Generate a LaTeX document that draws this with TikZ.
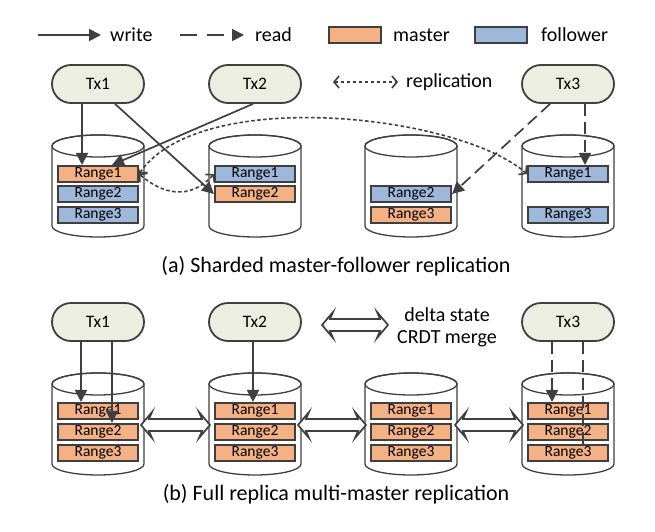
\documentclass[tikz,border=0pt]{standalone}
\usepackage{fontspec}
\setmainfont{Carlito}
\usetikzlibrary{arrows.meta,calc}
\definecolor{dk}{HTML}{3F3F3F}
\definecolor{mfill}{HTML}{F4B183}
\definecolor{ffill}{HTML}{9DB8DA}
\definecolor{txf}{HTML}{EBEEE1}
\newcommand\drum[3]{%
  \path[fill=white,draw=dk,line width=1.3pt] ({#1-46},#2) -- ({#1-46},{#2+80})
    arc[start angle=180,end angle=360,x radius=46pt,y radius=11pt] -- ({#1+46},#2)
    arc[start angle=0,end angle=180,x radius=46pt,y radius=11pt] -- cycle;
  \draw[dk,line width=1.3pt] (#1,#2) ellipse[x radius=46pt,y radius=11pt];
  \node[inner sep=0pt,minimum width=92pt,minimum height=102pt] (#3) at (#1,{#2+40}) {};
}
\newcommand\hollow[2]{%
  \draw[dk,line width=1.7pt,fill=white,line join=miter]
    (#1) -- ($(#1)+(11,-13)$) -- ($(#1)+(8,-6)$) -- ($(#2)+(-8,-6)$) -- ($(#2)+(-11,-13)$)
    -- (#2) -- ($(#2)+(-11,13)$) -- ($(#2)+(-8,6)$) -- ($(#1)+(8,6)$) -- ($(#1)+(11,13)$) -- cycle;
}
\begin{document}
\begin{tikzpicture}[x=1pt,y=-1pt,
  tx/.style={draw=dk,line width=1.8pt,fill=txf,rounded corners=19pt,minimum width=92pt,minimum height=38pt,inner sep=0pt,font=\fontsize{17.5}{20}\selectfont},
  rng/.style={draw=dk,line width=2.1pt,minimum width=80pt,minimum height=16pt,inner sep=0pt,font=\fontsize{15.5}{16}\selectfont},
  mst/.style={rng,fill=mfill},
  flw/.style={rng,fill=ffill},
  wr/.style={draw=dk,line width=1.7pt,-{Triangle[length=12pt,width=12pt]}},
  rd/.style={wr,dash pattern=on 12pt off 6pt},
  rep/.style={draw=dk,line width=1.6pt,dash pattern=on 3.5pt off 2.5pt,{Straight Barb[length=5pt,width=12pt]}-{Straight Barb[length=5pt,width=12pt]}},
  lbl/.style={font=\fontsize{20}{22}\selectfont,inner sep=0pt,anchor=west},
  captxt/.style={font=\fontsize{22}{24}\selectfont,inner sep=0pt}
]
\useasboundingbox (0,0) rectangle (655,532);
% legend
\coordinate (w0) at (38,35); \coordinate (w1) at (101,35);
\draw[wr] (w0) -- (w1);
\node[lbl] (lw) at (110,35) {write};
\coordinate (r0) at (180,35); \coordinate (r1) at (244,35);
\draw[wr,dash pattern=on 17pt off 10pt] (r0) -- (r1);
\node[lbl] (lr) at (255,35) {read};
\node[rng,fill=mfill,minimum width=52pt] (lm) at (355,35) {};
\node[lbl] (lmt) at (393,35) {master};
\node[rng,fill=ffill,minimum width=52pt] (lf) at (501,35) {};
\node[lbl] (lft) at (541,35) {follower};
\coordinate (p0) at (333,82); \coordinate (p1) at (398,82);
\draw[rep] (p0) -- (p1);
\node[lbl] (lp) at (406,82) {replication};

% ---------- (a) ----------
\node[tx] (ta1) at (98,84) {Tx1};
\node[tx] (ta2) at (255,84) {Tx2};
\node[tx] (ta3) at (568,84) {Tx3};
\drum{98}{146}{ca1}
\drum{255}{146}{ca2}
\drum{411}{146}{ca3}
\drum{568}{146}{ca4}
\node[mst] (a1r1) at (98,174) {Range1};
\node[flw] (a1r2) at (98,194) {Range2};
\node[flw] (a1r3) at (98,215) {Range3};
\node[flw] (a2r1) at (255,174) {Range1};
\node[mst] (a2r2) at (255,194) {Range2};
\node[flw] (a3r2) at (411,194) {Range2};
\node[mst] (a3r3) at (411,215) {Range3};
\node[flw] (a4r1) at (568,174) {Range1};
\node[flw] (a4r3) at (568,215) {Range3};

\draw[wr] ([xshift=-16pt]ta1.south) -- ([xshift=-16pt]a1r1.north);
\draw[wr] ([xshift=17pt]ta1.south) -- (a2r2.west);
\draw[wr] ([xshift=-2pt]ta2.south) -- ([xshift=14pt]a1r1.north);
\draw[rd] ([xshift=-18pt]ta3.south) -- (a3r2.east);
\draw[rd] ([xshift=17pt]ta3.south) -- ([xshift=17pt]a4r1.north);
\draw[rep] (a1r1.east) .. controls (170,200) and (195,195) .. (a2r1.west);
\draw[rep] (a1r1.east) .. controls (200,85) and (460,115) .. (a4r1.west);

\node[captxt] (capa) at (336,266) {(a) Sharded master-follower replication};

% ---------- (b) ----------
\node[tx] (tb1) at (98,322) {Tx1};
\node[tx] (tb2) at (255,322) {Tx2};
\node[tx] (tb3) at (568,322) {Tx3};
\coordinate (h0) at (322,325); \coordinate (h1) at (388,325);
\hollow{h0}{h1}
\node[font=\fontsize{20}{22}\selectfont,inner sep=0pt] (ld1) at (447,315) {delta state};
\node[font=\fontsize{20}{22}\selectfont,inner sep=0pt] (ld2) at (447,339) {CRDT merge};
\drum{98}{384}{cb1}
\drum{255}{384}{cb2}
\drum{411}{384}{cb3}
\drum{568}{384}{cb4}
\foreach \c/\x in {1/98,2/255,3/411,4/568}{
  \node[mst] (b\c r1) at (\x,411) {Range1};
  \node[mst] (b\c r2) at (\x,432) {Range2};
  \node[mst] (b\c r3) at (\x,453) {Range3};
}
\coordinate (e1) at (141,425); \coordinate (w2) at (210,425);
\coordinate (e2) at (298,425); \coordinate (w3) at (366,425);
\coordinate (e3) at (455,425); \coordinate (w4) at (523,425);
\hollow{e1}{w2}
\hollow{e2}{w3}
\hollow{e3}{w4}
\draw[wr] ([xshift=-17pt]tb1.south) -- ([xshift=-17pt]b1r1.north);
\draw[wr] ([xshift=14pt]tb1.south) -- ([xshift=14pt]b1r2.north);
\draw[wr] ([xshift=-2pt]tb2.south) -- ([xshift=-2pt]b2r1.north);
\draw[rd] ([xshift=-16pt]tb3.south) -- ([xshift=-16pt]b4r1.north);
\draw[rd,-] ([xshift=15pt]tb3.south) -- ([xshift=15pt,yshift=-3pt]b4r2.south);

\node[captxt] (capb) at (336,494) {(b) Full replica multi-master replication};
\end{tikzpicture}
\end{document}
